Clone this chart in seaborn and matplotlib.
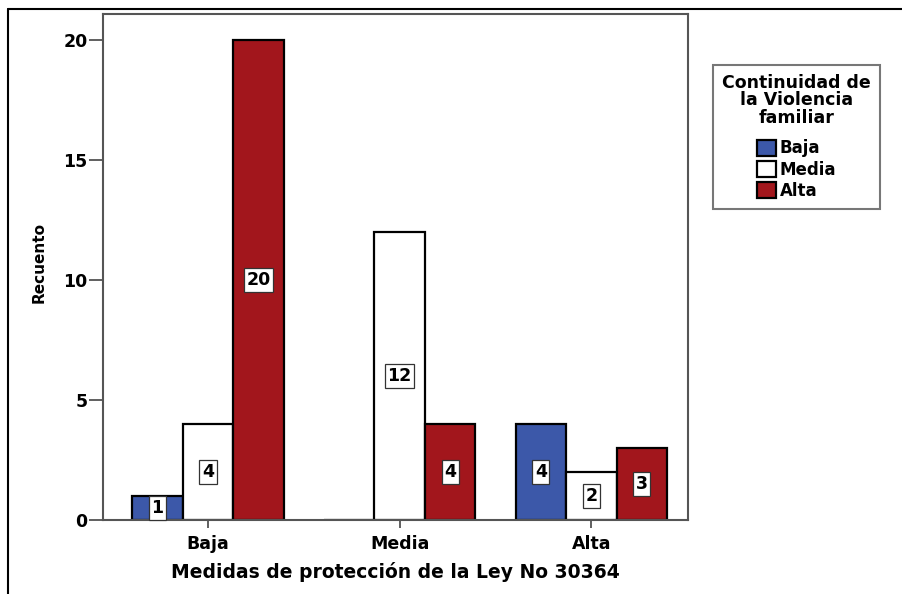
import matplotlib
matplotlib.use('Agg')
import matplotlib.pyplot as plt
import matplotlib.lines as mlines
import pandas as pd
import seaborn as sns

# data
medidas = ['Baja', 'Media', 'Alta']
continuidad = ['Baja', 'Media', 'Alta']
recuento_baja = [1, 0, 4]
recuento_media = [4, 12, 2]
recuento_alta = [20, 4, 3]
colores = ['#3c58a9', '#ffffff', '#a2161c']

rows = []
for serie, valores in zip(continuidad, [recuento_baja, recuento_media, recuento_alta]):
    for med, v in zip(medidas, valores):
        rows.append({'medida': med, 'continuidad': serie, 'recuento': v})
df = pd.DataFrame(rows)

sns.set_theme(style='white')
plt.rcParams['font.family'] = ['DejaVu Sans']
plt.rcParams['text.color'] = 'black'

fig = plt.figure(figsize=(9.03, 5.94), dpi=100)
ax = fig.add_axes([0.114, 0.1246, 0.648, 0.8518])

sns.barplot(
    data=df, x='medida', y='recuento', hue='continuidad',
    order=medidas, hue_order=continuidad, palette=colores,
    width=0.79, edgecolor='black', linewidth=1.6, saturation=1,
    errorbar=None, ax=ax,
)

for cont in ax.containers:
    labels = [f'{int(b.get_height())}' if b.get_height() > 0 else '' for b in cont]
    ax.bar_label(
        cont, labels=labels, label_type='center', fontsize=12.5, fontweight='bold',
        bbox=dict(boxstyle='square,pad=0.15', facecolor='white', edgecolor='#333333', linewidth=0.9),
    )

ax.set_ylim(0, 21.08)
ax.set_xlim(-0.548, 2.505)
ax.set_yticks([0, 5, 10, 15, 20])
ax.tick_params(axis='y', direction='out', length=10, width=1.2, pad=1,
               color='#444444', labelsize=12.5, left=True, labelcolor='black')
ax.tick_params(axis='x', direction='out', length=6, width=1.2, pad=5,
               color='#444444', labelsize=12.5, bottom=True, labelcolor='black')
for lab in ax.get_xticklabels() + ax.get_yticklabels():
    lab.set_fontweight('bold')
ax.set_xlabel('Medidas de protección de la Ley No 30364', fontsize=13.5, fontweight='bold',
              color='black', labelpad=6)
ax.set_ylabel('Recuento', fontsize=11, fontweight='bold', color='black')
ax.yaxis.set_label_coords(-0.097, 0.508)
for sp in ax.spines.values():
    sp.set_visible(True)
    sp.set_color('#555555')
    sp.set_linewidth(1.5)

handles, labels = ax.get_legend_handles_labels()
ax.legend_.remove()
leg = fig.legend(
    handles, labels, title='Continuidad de\nla Violencia\nfamiliar',
    loc='upper left', bbox_to_anchor=(713 / 903, 1 - 65 / 594),
    frameon=True, fancybox=False, edgecolor='#555555',
    prop={'size': 12, 'weight': 'bold'},
    handlelength=1.15, handleheight=1.1, handletextpad=0.2,
    labelspacing=0.2, borderpad=0.55, borderaxespad=0,
)
leg.get_title().set_fontweight('bold')
leg.get_title().set_fontsize(12.5)
leg.get_title().set_multialignment('center')
leg.get_title().set_linespacing(0.95)
leg.get_frame().set_linewidth(1.5)
leg._legend_box.align = 'center'
leg._legend_box.sep = 9

# outer frame lines (top and left edges of the image)
fig.add_artist(mlines.Line2D([8 / 903, 1], [1 - 9 / 594, 1 - 9 / 594], color='black', linewidth=1.5))
fig.add_artist(mlines.Line2D([8 / 903, 8 / 903], [0, 1 - 9 / 594], color='black', linewidth=1.5))

fig.savefig('out.png', dpi=100)
